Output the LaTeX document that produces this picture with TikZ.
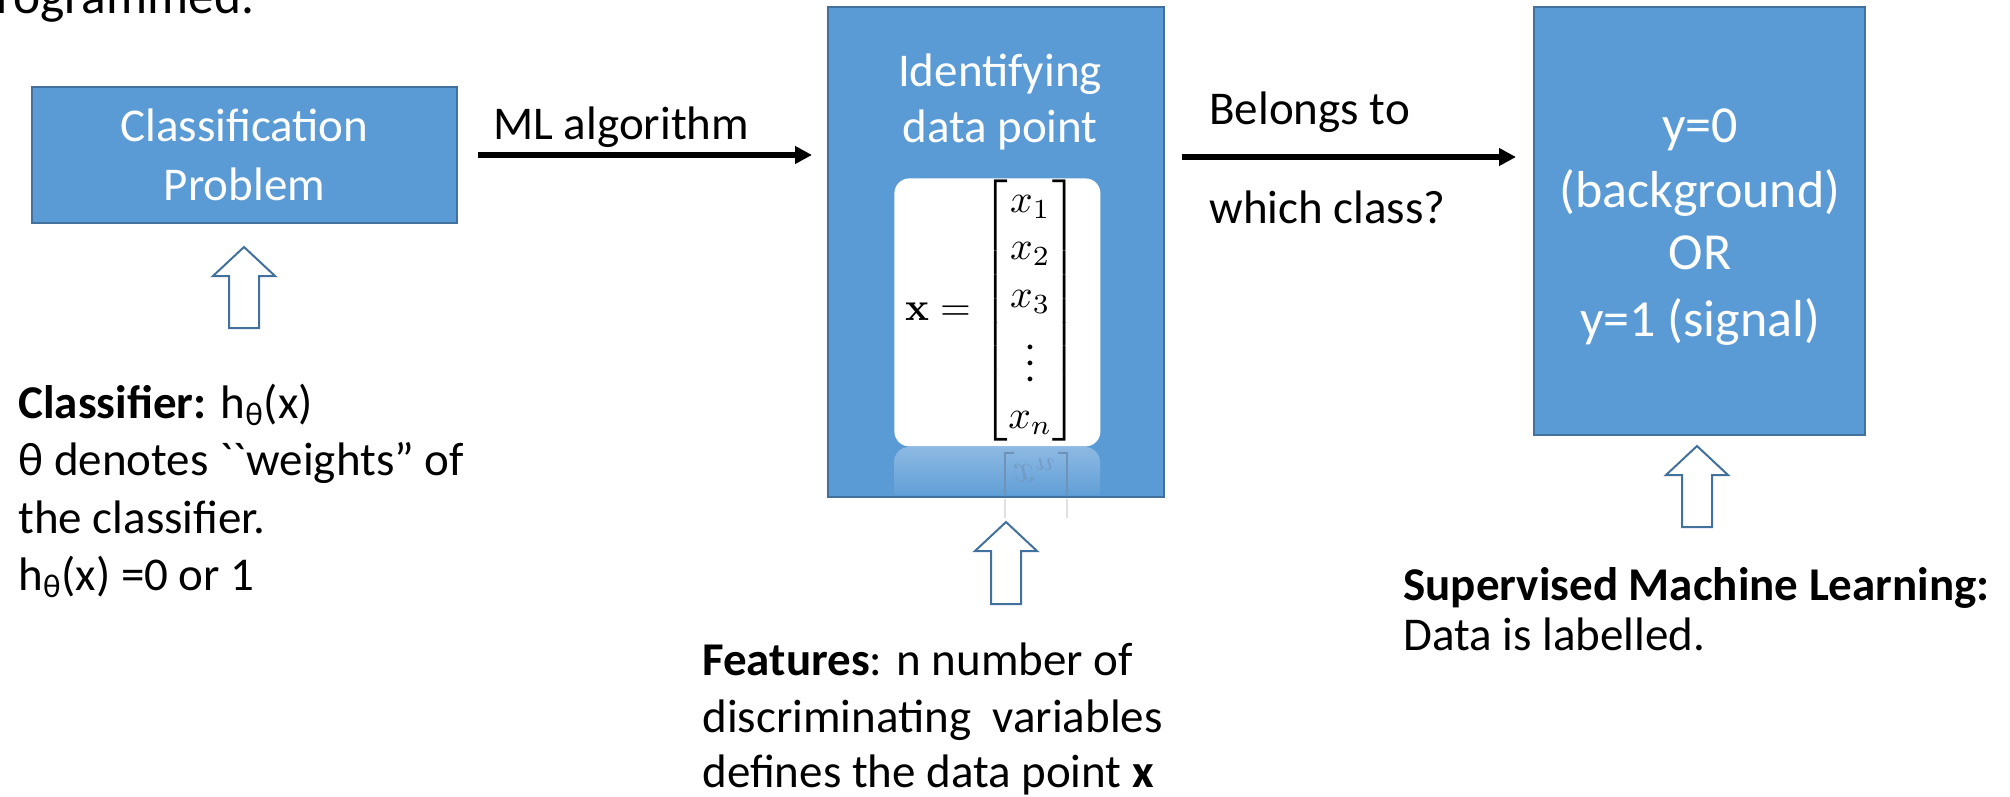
\documentclass[tikz,border=0pt]{standalone}
\usepackage[no-math]{fontspec}
\setmainfont{Carlito}
\usepackage{amsmath}
\usepackage{graphicx}
\usetikzlibrary{arrows.meta}
\definecolor{boxblue}{HTML}{5B9BD5}
\definecolor{bdr}{HTML}{41719C}
\definecolor{refltop}{HTML}{8DB9E3}
\definecolor{reflline}{HTML}{6F93B8}
\newcommand\fsA{\fontsize{23.5pt}{28pt}\selectfont}
\newcommand\fsB{\fontsize{26pt}{31pt}\selectfont}
\newcommand\fsT{\fontsize{25.7pt}{31pt}\selectfont}
\newcommand\hollowup[4]{%
  \draw[hollow] (#2,#3) coordinate (#1) -- ({#2+31},{#3+29}) -- ({#2+15},{#3+29}) -- ({#2+15},#4) -- ({#2-15},#4) -- ({#2-15},{#3+29}) -- ({#2-31},{#3+29}) -- cycle;}
\begin{document}
\begin{tikzpicture}[x=0.5pt,y=-0.5pt,
  blk/.style={draw=bdr, fill=boxblue, line width=1pt, anchor=north west, inner sep=0pt, outer sep=0pt},
  wt/.style={text=white, font=\fsA, anchor=base, inner sep=0pt},
  wtb/.style={text=white, font=\fsB, anchor=base, inner sep=0pt},
  bt/.style={text=black, font=\fsA, anchor=base west, inner sep=0pt},
  conn/.style={line width=2.6pt, -{Triangle[length=8.5pt,width=8.5pt]}},
  hollow/.style={draw=bdr, fill=white, line width=1pt, line join=miter}]
\useasboundingbox (0,0) rectangle (2010,797);

% cut-off text at the top
\node[bt, font=\fsT] (top) at (-4,14) {rogrammed.};

% box 1
\node[blk, minimum width=212.5pt, minimum height=68pt] (b1) at (32,87) {};
\node[wt] (b1l1) at (244.5,142) {Classification};
\node[wt] (b1l2) at (244.5,200) {Problem};

% box 2
\node[blk, minimum width=168pt, minimum height=245pt] (b2) at (828,7) {};
\node[wt] (b2l1) at (1000,87) {Identifying};
\node[wt] (b2l2) at (1000,143) {data point};
\node[fill=white, rounded corners=7.5pt, anchor=north west, inner sep=0pt,
      minimum width=103pt, minimum height=134pt] (wb) at (894,178) {};
\node[inner sep=0pt] (mat) at (992,311)
  {\scalebox{1.98}{$\mathbf{x} = \begin{bmatrix} x_1\\ x_2\\ x_3\\ \vdots\\ x_n \end{bmatrix}$}};
% reflection
\shade[top color=refltop, bottom color=boxblue!96!white, rounded corners=7.5pt]
  (894,495) -- (894,447) -- (1100,447) -- (1100,495);
\draw[reflline, line width=0.8pt] (1014,453) -- (1005,453) -- (1005,495);
\draw[reflline, line width=0.8pt] (1058,453) -- (1067,453) -- (1067,495);
\draw[black!12, line width=0.8pt] (1005,499) -- (1005,518);
\draw[black!12, line width=0.8pt] (1067,499) -- (1067,518);
\node[anchor=base, inner sep=0pt, text=reflline, opacity=0.6] (rxn) at (1035,464)
  {\scalebox{1.98}[-1.98]{$x_n$}};

% box 3
\node[blk, minimum width=165.5pt, minimum height=214pt] (b3) at (1534,7) {};
\node[wtb] (b3l1) at (1700,143) {y=0};
\node[wtb] (b3l2) at (1700,207) {(background)};
\node[wtb] (b3l3) at (1700,270) {OR};
\node[wtb] (b3l4) at (1700,336) {y=1 (signal)};

% connectors
\coordinate (lvl2) at (0,157);
\draw[conn, shorten <=10.5pt, shorten >=8pt] (b1.east) -- (b2.west |- b1.east);
\node[bt] (ml) at (493,140) {ML algorithm};
\draw[conn, shorten <=9pt, shorten >=9pt] (b2.east |- lvl2) -- (b3.west |- lvl2);
\node[bt] (bel1) at (1209,125) {Belongs to};
\node[bt] (bel2) at (1209,223) {which class?};

% hollow up arrows
\hollowup{a1}{244}{247}{328}
\hollowup{a2}{1006}{522}{604}
\hollowup{a3}{1697}{446}{527}

% classifier text
\node[bt] (cl1) at (18,418) {\textbf{Classifier:} h\textsubscript{θ}(x)};
\node[bt] (cl2) at (18,475) {θ denotes \textasciigrave\textasciigrave weights” of};
\node[bt] (cl3) at (18,533) {the classifier.};
\node[bt] (cl4) at (18,590) {h\textsubscript{θ}(x) =0 or 1};

% features text
\node[bt] (f1) at (702,675) {\textbf{Features}: n number of};
\node[bt] (f2) at (702,732) {discriminating\ \ variables};
\node[bt] (f3) at (702,787) {defines the data point \textbf{x}};

% supervised text
\node[bt] (s1) at (1403,600) {\textbf{Supervised Machine Learning:}};
\node[bt] (s2) at (1403,650) {Data is labelled.};
\end{tikzpicture}
\end{document}
